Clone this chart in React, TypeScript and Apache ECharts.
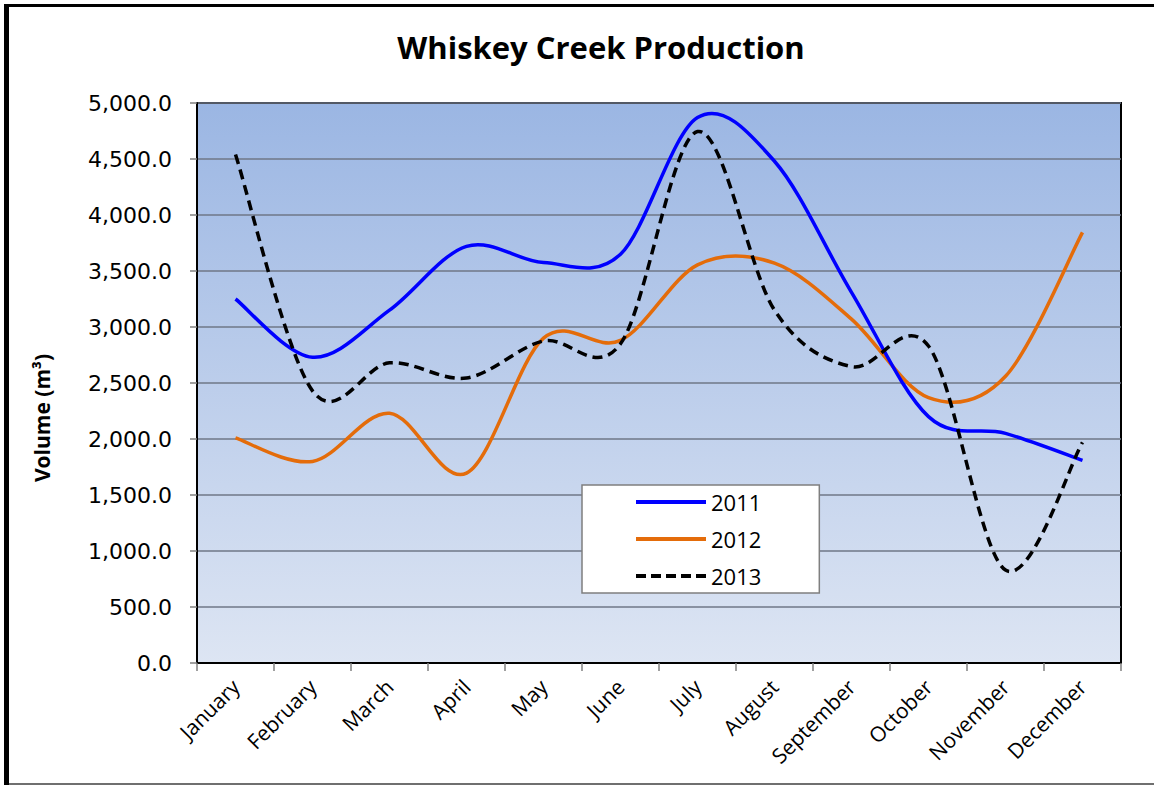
import React, { useEffect, useRef } from "react";
import * as echarts from "echarts";

const months = ["January","February","March","April","May","June","July","August","September","October","November","December"];
const s2011 = [3250, 2730, 3150, 3720, 3575, 3650, 4870, 4480, 3310, 2200, 2050, 1810];
const s2012 = [2010, 1800, 2230, 1695, 2900, 2880, 3555, 3570, 3070, 2370, 2560, 3845];
const s2013 = [4540, 2430, 2680, 2545, 2875, 2850, 4745, 3150, 2646, 2830, 830, 1970];
const yTicks = { min: 0, max: 5000, interval: 500 };

const TENSION = 1 / 6;

function makeSeries(name: string, values: number[], color: string, dash: number[] | null, z: number) {
  return {
    name,
    type: "custom",
    z,
    clip: true,
    itemStyle: { color },
    data: values.map((v, i) => [i, v]),
    encode: { x: 0, y: 1 },
    renderItem: (params: any, api: any) => {
      if (params.dataIndex !== 0) return null;
      const pts = values.map((v, j) => api.coord([j, v]));
      let d = `M${pts[0][0]},${pts[0][1]}`;
      for (let i = 0; i < pts.length - 1; i++) {
        const p0 = pts[i - 1] || pts[i];
        const p1 = pts[i];
        const p2 = pts[i + 1];
        const p3 = pts[i + 2] || pts[i + 1];
        const c1x = p1[0] + (p2[0] - p0[0]) * TENSION;
        const c1y = p1[1] + (p2[1] - p0[1]) * TENSION;
        const c2x = p2[0] - (p3[0] - p1[0]) * TENSION;
        const c2y = p2[1] - (p3[1] - p1[1]) * TENSION;
        d += ` C${c1x},${c1y} ${c2x},${c2y} ${p2[0]},${p2[1]}`;
      }
      return {
        type: "path",
        shape: { pathData: d },
        style: {
          fill: "none",
          stroke: color,
          lineWidth: 3.5,
          lineDash: dash || undefined,
          lineCap: "butt",
          lineJoin: "round",
        },
      };
    },
  };
}

const solidIcon = "path://M0,0H70V4H0Z";
const dashIcon = "path://M0,0h10v4h-10z M15,0h10v4h-10z M30,0h10v4h-10z M45,0h10v4h-10z M60,0h10v4h-10z";

export default function App() {
  const ref = useRef<HTMLDivElement>(null);
  useEffect(() => {
    document.body.style.margin = "0";
    const chart = echarts.init(ref.current!, null, { renderer: "svg" });
    chart.setOption({
      animation: false,
      backgroundColor: "#ffffff",
      title: {
        text: "Whiskey Creek Production",
        left: 596,
        top: 26,
        textAlign: "center",
        textStyle: { fontFamily: "Open Sans", fontWeight: "bold", fontSize: 31, color: "#000" },
      },
      grid: {
        left: 197, right: 33, top: 103, bottom: 123,
        show: true,
        borderColor: "#000",
        borderWidth: 2,
        backgroundColor: new echarts.graphic.LinearGradient(0, 0, 0, 1, [
          { offset: 0, color: "#9bb6e3" },
          { offset: 1, color: "#dde5f3" },
        ]),
      },
      legend: {
        orient: "vertical",
        left: 582,
        top: 485,
        backgroundColor: "#ffffff",
        borderColor: "#7f7f7f",
        borderWidth: 1.5,
        padding: [5, 58, 5, 54],
        itemWidth: 70,
        itemHeight: 4,
        itemGap: 13,
        textStyle: { fontFamily: "Open Sans", fontSize: 22, color: "#000", lineHeight: 24 },
        data: [
          { name: "2011", icon: solidIcon },
          { name: "2012", icon: solidIcon },
          { name: "2013", icon: dashIcon },
        ],
      },
      xAxis: {
        type: "category",
        data: months,
        boundaryGap: true,
        axisLine: { show: true, lineStyle: { color: "#000", width: 2 } },
        axisTick: { show: true, length: 8, alignWithLabel: false, lineStyle: { color: "#808080", width: 1.5 } },
        axisLabel: {
          interval: 0,
          rotate: 45,
          margin: 20,
          fontFamily: "Open Sans",
          fontSize: 21,
          color: "#000",
        },
        splitLine: { show: false },
      },
      yAxis: {
        type: "value",
        min: yTicks.min,
        max: yTicks.max,
        interval: yTicks.interval,
        axisLine: { show: true, lineStyle: { color: "#000", width: 2 } },
        axisTick: { show: true, length: 7, lineStyle: { color: "#808080", width: 1.5 } },
        axisLabel: {
          margin: 25,
          fontFamily: "DejaVu Sans",
          fontSize: 22,
          color: "#000",
          formatter: (v: number) => v.toLocaleString("en-US", { minimumFractionDigits: 1, maximumFractionDigits: 1 }),
        },
        splitLine: { show: true, lineStyle: { color: "#6f7787", width: 1.5 } },
      },
      series: [
        makeSeries("2011", s2011, "#0000ff", null, 3),
        makeSeries("2012", s2012, "#e46c0a", null, 2),
        makeSeries("2013", s2013, "#000000", [10, 6], 4),
      ],
      graphic: [
        { type: "rect", shape: { x: 5.5, y: 5, width: 1150, height: 779 }, style: { fill: "none", stroke: "#404040", lineWidth: 1.5 }, silent: true },
        { type: "line", shape: { x1: 6.5, y1: 4, x2: 6.5, y2: 785 }, style: { stroke: "#000", lineWidth: 5 }, silent: true },
        { type: "line", shape: { x1: 4, y1: 5.5, x2: 1154, y2: 5.5 }, style: { stroke: "#000", lineWidth: 3 }, silent: true },
        {
          type: "text",
          x: 42, y: 418,
          rotation: Math.PI / 2,
          style: { text: "Volume (m³)", fontFamily: "Open Sans", fontWeight: "bold", fontSize: 21, fill: "#000", align: "center", verticalAlign: "middle" },
        },
      ],
    });
    return () => chart.dispose();
  }, []);
  return <div ref={ref} style={{ position: "fixed", left: 0, top: 0, width: 1154, height: 786 }} />;
}
